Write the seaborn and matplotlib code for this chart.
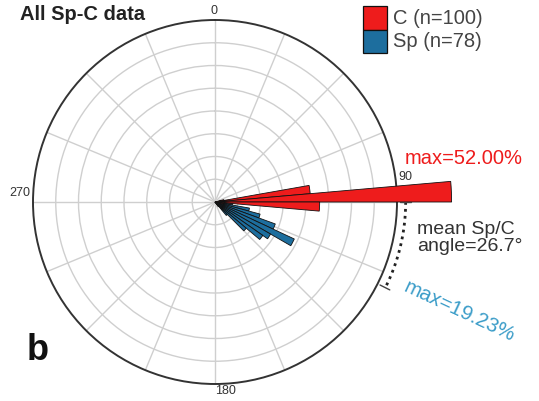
import numpy as np
import pandas as pd
import matplotlib
matplotlib.use("Agg")
import matplotlib.pyplot as plt
import seaborn as sns

# ---- data (5-degree bins, start angle in degrees, percent of measurements) ----
c_bin_start = [75, 80, 85, 90, 95]
c_pct = [2.0, 21.0, 52.0, 23.0, 2.0]

sp_bin_start = [85, 90, 95, 100, 105, 110, 115, 120, 125, 130, 135, 140]
sp_pct = [1.28, 2.56, 3.85, 7.69, 10.26, 14.10, 19.23, 14.10, 12.82, 8.97, 3.85, 1.28]

bin_width = 5
mean_angle_start = 90.0
mean_angle_diff = 26.7
r_max = 40
r_grid = [5, 10, 15, 20, 25, 30, 35]
theta_grid = list(np.arange(0, 360, 22.5))

legend_labels = ["C (n=100)", "Sp (n=78)"]
c_color = "#ee1c1c"
sp_color = "#1d6e9e"

sns.set_theme(style="white")
plt.rcParams["font.family"] = ["Liberation Sans", "DejaVu Sans"]

W, H = 539, 401
fig = plt.figure(figsize=(W / 100, H / 100), dpi=100)
cx, cy, R = 215, 202, 182
ax = fig.add_axes([(cx - R) / W, (H - cy - R) / H, 2 * R / W, 2 * R / H], projection="polar")
ax.set_theta_zero_location("N")
ax.set_theta_direction(-1)


def draw(starts, pct, color):
    starts = np.asarray(starts, float)
    edges = [float(e) for e in np.deg2rad(np.append(starts, starts[-1] + bin_width))]
    df = pd.DataFrame({"theta": np.deg2rad(starts + bin_width / 2), "pct": pct})
    sns.histplot(data=df, x="theta", weights="pct", bins=edges, ax=ax, color=color,
                 edgecolor="#111111", linewidth=0.6, alpha=1, zorder=3)


draw(sp_bin_start, sp_pct, sp_color)
draw(c_bin_start, c_pct, c_color)
for p in ax.patches:
    p.set_clip_on(False)

ax.set_ylim(0, r_max)
ax.set_rgrids(r_grid, labels=[""] * len(r_grid))
ax.set_thetagrids(theta_grid, labels=[""] * len(theta_grid))
ax.grid(True, color="#cfcfcf", linewidth=1.0)
ax.spines["polar"].set_color("#333333")
ax.spines["polar"].set_linewidth(1.4)
ax.set_xlabel("")
ax.set_ylabel("")

# mean angle arc (dotted)
th = np.deg2rad(np.linspace(mean_angle_start, mean_angle_start + mean_angle_diff, 60))
ax.plot(th, np.full_like(th, 41.9), linestyle=(0, (1, 1.5)), color="#222222",
        linewidth=2, clip_on=False, zorder=4)
for a in (mean_angle_start, mean_angle_start + mean_angle_diff):
    ax.plot([np.deg2rad(a)] * 2, [40.6, 43.0], color="#444444", linewidth=1,
            clip_on=False, zorder=4)


def ftext(x, y, s, **kw):
    fig.text(x / W, 1 - y / H, s, **kw)


ftext(20, 15, "All Sp-C data", fontsize=14.5, fontweight="bold", color="#222222",
      ha="left", va="center")
ftext(214, 11, "0", fontsize=9, color="#333333", ha="center", va="center")
ftext(405, 177, "90", fontsize=9, color="#333333", ha="center", va="center")
ftext(225, 391, "180", fontsize=9, color="#333333", ha="center", va="center")
ftext(20, 193, "270", fontsize=9, color="#333333", ha="center", va="center")
ftext(405, 158, "max=52.00%", fontsize=14.5, color=c_color, ha="left", va="center")
ftext(417, 238, "mean Sp/C\nangle=26.7°", fontsize=14, color="#333333",
      ha="left", va="center", linespacing=1.05)
ftext(460, 311, "max=19.23%", fontsize=14.8, color="#3a9cc8", ha="center",
      va="center", rotation=-25, rotation_mode="anchor")
ftext(38, 351, "b", fontsize=26, fontweight="bold", color="#111111",
      ha="center", va="center")

for i, (lab, col) in enumerate(zip(legend_labels, [c_color, sp_color])):
    y0 = 6 + i * 23.5
    fig.patches.append(plt.Rectangle((363 / W, 1 - (y0 + 23.5) / H), 24 / W, 23.5 / H,
                                     transform=fig.transFigure, facecolor=col,
                                     edgecolor="#111111", linewidth=0.9))
    ftext(393, y0 + 12, lab, fontsize=14.5, color="#444444", ha="left", va="center")

fig.savefig("out.png", dpi=100)
